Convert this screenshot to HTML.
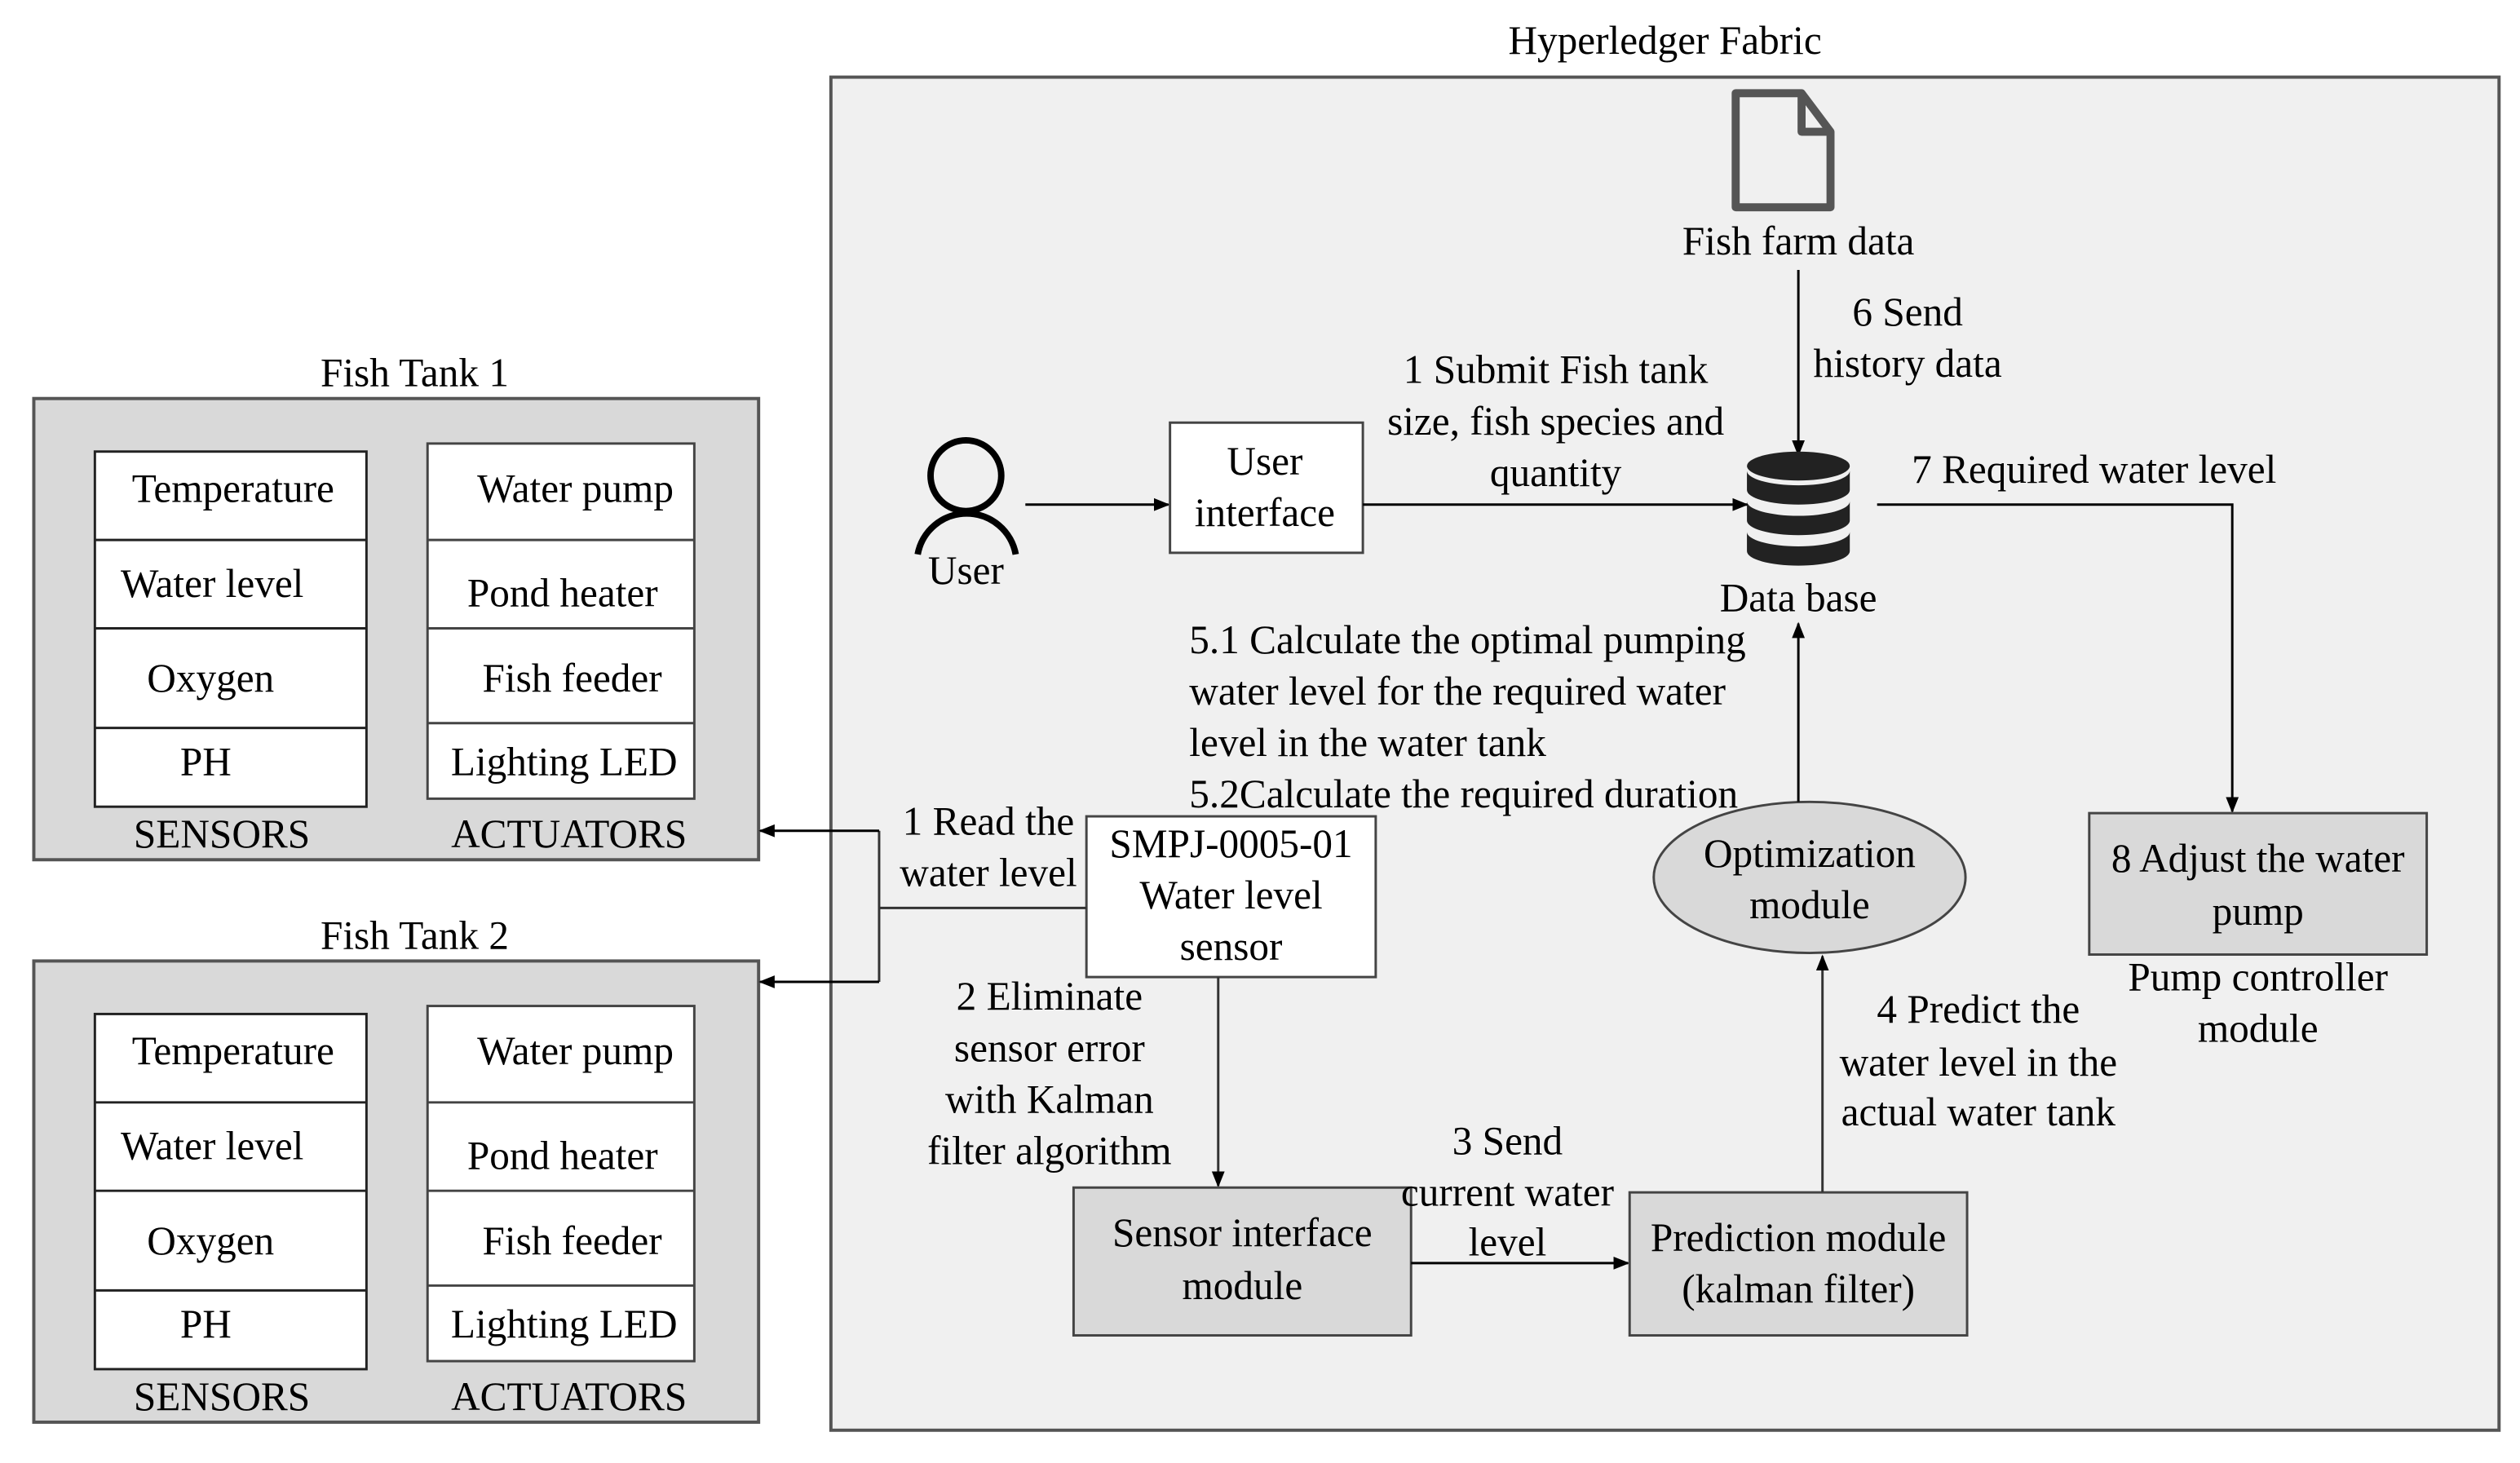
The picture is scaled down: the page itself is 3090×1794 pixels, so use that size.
<!DOCTYPE html>
<html><head><style>html,body{margin:0;padding:0;background:#fff}svg{display:block}svg text{font-family:"Liberation Serif","Times New Roman",serif;font-size:25px}</style></head><body>
<svg width="3090" height="1794" viewBox="0 0 1568 910.4" xmlns="http://www.w3.org/2000/svg" fill="#000">
<defs><marker id="a" markerWidth="10" markerHeight="10" refX="9" refY="5" orient="auto" markerUnits="userSpaceOnUse"><path d="M0,1 L10,5 L0,9 Z" fill="#000"/></marker></defs>
<g text-anchor="middle" dominant-baseline="central">
<text x="1036" y="25">Hyperledger Fabric</text>
<rect x="517" y="48" width="1038" height="842" fill="#f0f0f0" stroke="#555" stroke-width="2"/>

<g>
<text x="258" y="232">Fish Tank 1</text>
<rect x="21" y="248" width="451" height="287" fill="#d9d9d9" stroke="#555" stroke-width="2"/>
<rect x="59" y="281" width="169" height="221" fill="#fff" stroke="#222" stroke-width="1.5"/>
<line x1="59" y1="336" x2="228" y2="336" stroke="#222" stroke-width="1.5"/>
<line x1="59" y1="391" x2="228" y2="391" stroke="#222" stroke-width="1.5"/>
<line x1="59" y1="453" x2="228" y2="453" stroke="#222" stroke-width="1.5"/>
<rect x="266" y="276" width="166" height="221" fill="#fff" stroke="#444" stroke-width="1.5"/>
<line x1="266" y1="336" x2="432" y2="336" stroke="#444" stroke-width="1.5"/>
<line x1="266" y1="391" x2="432" y2="391" stroke="#444" stroke-width="1.5"/>
<line x1="266" y1="450" x2="432" y2="450" stroke="#444" stroke-width="1.5"/>
<text x="145" y="304">Temperature</text>
<text x="132" y="363">Water level</text>
<text x="131" y="422">Oxygen</text>
<text x="128" y="474">PH</text>
<text x="358" y="304">Water pump</text>
<text x="350" y="369">Pond heater</text>
<text x="356" y="422">Fish feeder</text>
<text x="351" y="474">Lighting LED</text>
<text x="138" y="519">SENSORS</text>
<text x="354" y="519">ACTUATORS</text>
</g>
<g transform="translate(0,350)">
<text x="258" y="232">Fish Tank 2</text>
<rect x="21" y="248" width="451" height="287" fill="#d9d9d9" stroke="#555" stroke-width="2"/>
<rect x="59" y="281" width="169" height="221" fill="#fff" stroke="#222" stroke-width="1.5"/>
<line x1="59" y1="336" x2="228" y2="336" stroke="#222" stroke-width="1.5"/>
<line x1="59" y1="391" x2="228" y2="391" stroke="#222" stroke-width="1.5"/>
<line x1="59" y1="453" x2="228" y2="453" stroke="#222" stroke-width="1.5"/>
<rect x="266" y="276" width="166" height="221" fill="#fff" stroke="#444" stroke-width="1.5"/>
<line x1="266" y1="336" x2="432" y2="336" stroke="#444" stroke-width="1.5"/>
<line x1="266" y1="391" x2="432" y2="391" stroke="#444" stroke-width="1.5"/>
<line x1="266" y1="450" x2="432" y2="450" stroke="#444" stroke-width="1.5"/>
<text x="145" y="304">Temperature</text>
<text x="132" y="363">Water level</text>
<text x="131" y="422">Oxygen</text>
<text x="128" y="474">PH</text>
<text x="358" y="304">Water pump</text>
<text x="350" y="369">Pond heater</text>
<text x="356" y="422">Fish feeder</text>
<text x="351" y="474">Lighting LED</text>
<text x="138" y="519">SENSORS</text>
<text x="354" y="519">ACTUATORS</text>
</g>

<path d="M1080,58 H1121 L1139,82 V129 H1080 Z M1121,58 V82 H1139" fill="none" stroke="#555" stroke-width="5" stroke-linejoin="round"/>
<text x="1119" y="150">Fish farm data</text>
<line x1="1119" y1="168" x2="1119" y2="283" stroke="#000" stroke-width="1.5" marker-end="url(#a)"/>
<text x="1187" y="194">6 Send</text>
<text x="1187" y="226">history data</text>

<g fill="#222">
<ellipse cx="1119" cy="290" rx="32" ry="9"/>
<path d="M1087,293 V305 A32,9 0 0 0 1151,305 V293 A32,9 0 0 1 1087,293 Z"/>
<path d="M1087,312 V324 A32,9 0 0 0 1151,324 V312 A32,9 0 0 1 1087,312 Z"/>
<path d="M1087,331 V343 A32,9 0 0 0 1151,343 V331 A32,9 0 0 1 1087,331 Z"/>
</g>
<text x="1119" y="372">Data base</text>

<circle cx="601" cy="296" r="22" fill="none" stroke="#000" stroke-width="4"/>
<path d="M571,345 A31,31 0 0 1 632,345" fill="none" stroke="#000" stroke-width="4"/>
<text x="601" y="355">User</text>
<line x1="638" y1="314" x2="727" y2="314" stroke="#000" stroke-width="1.5" marker-end="url(#a)"/>
<rect x="728" y="263" width="120" height="81" fill="#fff" stroke="#444" stroke-width="1.5"/>
<text x="787" y="287">User</text>
<text x="787" y="319">interface</text>
<line x1="848" y1="314" x2="1087" y2="314" stroke="#000" stroke-width="1.5" marker-end="url(#a)"/>
<text x="968" y="230">1 Submit Fish tank</text>
<text x="968" y="262">size, fish species and</text>
<text x="968" y="294">quantity</text>

<text x="1303" y="292">7 Required water level</text>
<polyline points="1168,314 1389,314 1389,505" fill="none" stroke="#000" stroke-width="1.5" marker-end="url(#a)"/>
<rect x="1300" y="506" width="210" height="88" fill="#d9d9d9" stroke="#444" stroke-width="1.5"/>
<text x="1405" y="534">8 Adjust the water</text>
<text x="1405" y="567">pump</text>
<text x="1405" y="608">Pump controller</text>
<text x="1405" y="640">module</text>

<ellipse cx="1126" cy="546" rx="97" ry="47" fill="#d9d9d9" stroke="#444" stroke-width="1.5"/>
<text x="1126" y="531">Optimization</text>
<text x="1126" y="563">module</text>
<line x1="1119" y1="499" x2="1119" y2="388" stroke="#000" stroke-width="1.5" marker-end="url(#a)"/>
<g text-anchor="start">
<text x="740" y="398">5.1 Calculate the optimal pumping</text>
<text x="740" y="430">water level for the required water</text>
<text x="740" y="462">level in the water tank</text>
<text x="740" y="494">5.2Calculate the required duration</text>
</g>

<rect x="676" y="508" width="180" height="100" fill="#fff" stroke="#444" stroke-width="1.5"/>
<text x="766" y="525">SMPJ-0005-01</text>
<text x="766" y="557">Water level</text>
<text x="766" y="589">sensor</text>
<polyline points="676,565 547,565" fill="none" stroke="#333" stroke-width="1.5"/>
<polyline points="547,517 547,611" fill="none" stroke="#333" stroke-width="1.5"/>
<line x1="547" y1="517" x2="473" y2="517" stroke="#000" stroke-width="1.5" marker-end="url(#a)"/>
<line x1="547" y1="611" x2="473" y2="611" stroke="#000" stroke-width="1.5" marker-end="url(#a)"/>
<text x="615" y="511">1 Read the</text>
<text x="615" y="543">water level</text>

<line x1="758" y1="608" x2="758" y2="738" stroke="#333" stroke-width="1.5" marker-end="url(#a)"/>
<text x="653" y="620">2 Eliminate</text>
<text x="653" y="652">sensor error</text>
<text x="653" y="684">with Kalman</text>
<text x="653" y="716">filter algorithm</text>

<rect x="668" y="739" width="210" height="92" fill="#d9d9d9" stroke="#444" stroke-width="1.5"/>
<text x="773" y="767">Sensor interface</text>
<text x="773" y="800">module</text>
<line x1="878" y1="786" x2="1013" y2="786" stroke="#000" stroke-width="1.5" marker-end="url(#a)"/>
<text x="938" y="710">3 Send</text>
<text x="938" y="742">current water</text>
<text x="938" y="773">level</text>

<rect x="1014" y="742" width="210" height="89" fill="#d9d9d9" stroke="#444" stroke-width="1.5"/>
<text x="1119" y="770">Prediction module</text>
<text x="1119" y="802">(kalman filter)</text>
<line x1="1134" y1="742" x2="1134" y2="595" stroke="#333" stroke-width="1.5" marker-end="url(#a)"/>
<text x="1231" y="628">4 Predict the</text>
<text x="1231" y="661">water level in the</text>
<text x="1231" y="692">actual water tank</text>
</g>
</svg>
</body></html>
